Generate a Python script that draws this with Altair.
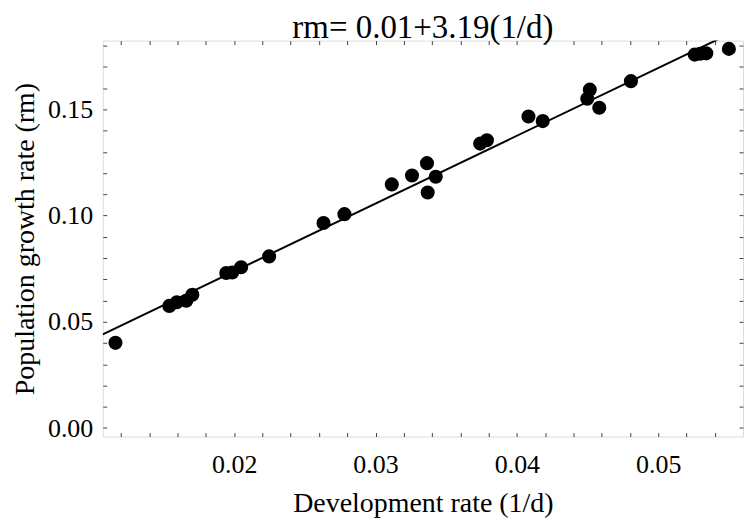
import altair as alt
import pandas as pd

# Development rate (1/d) and population growth rate (rm)
dev_rate = [0.01160, 0.01541, 0.01594, 0.01661, 0.01704, 0.01944, 0.01986,
            0.02049, 0.02247, 0.02632, 0.02780, 0.03115, 0.03258, 0.03364,
            0.03369, 0.03426, 0.03740, 0.03788, 0.04082, 0.04183, 0.04516,
            0.04498, 0.04583, 0.04807, 0.05258, 0.05296, 0.05340, 0.05500]
growth_rate = [0.0401, 0.0575, 0.0592, 0.0599, 0.0627, 0.0730, 0.0732,
               0.0757, 0.0808, 0.0965, 0.1007, 0.1147, 0.1189, 0.1247,
               0.1109, 0.1183, 0.1339, 0.1355, 0.1467, 0.1445, 0.1593,
               0.1550, 0.1508, 0.1633, 0.1758, 0.1762, 0.1764, 0.1785]

# Fitted line from the title: rm = 0.01 + 3.19 (1/d)
INTERCEPT = 0.01
SLOPE = 3.19

X_DOMAIN = [0.0107, 0.0560]
Y_DOMAIN = [-0.004, 0.1824]

x_ticks = [0.012, 0.014, 0.016, 0.018, 0.020, 0.022, 0.024, 0.026, 0.028,
           0.030, 0.032, 0.034, 0.036, 0.038, 0.040, 0.042, 0.044, 0.046,
           0.048, 0.050, 0.052, 0.054]
y_ticks = [0.00, 0.01, 0.02, 0.03, 0.04, 0.05, 0.06, 0.07, 0.08, 0.09, 0.10,
           0.11, 0.12, 0.13, 0.14, 0.15, 0.16, 0.17, 0.18]

FONT = "Liberation Serif"
TICK_COLOR = "#444"

points = pd.DataFrame({"x": dev_rate, "y": growth_rate})
line_df = pd.DataFrame({"x": X_DOMAIN})

x_scale = alt.Scale(domain=X_DOMAIN, nice=False, zero=False)
y_scale = alt.Scale(domain=Y_DOMAIN, nice=False, zero=False)

x_label_expr = "abs(datum.value*100 - round(datum.value*100)) < 0.001 ? format(datum.value, '.2f') : ''"
y_label_expr = "abs(datum.value*20 - round(datum.value*20)) < 0.001 ? format(datum.value, '.2f') : ''"

common_axis = dict(domain=False, grid=False, tickSize=4, tickColor=TICK_COLOR,
                   tickWidth=1, offset=-4, labelFont=FONT, labelFontSize=26,
                   labelColor="black", labelOverlap=False, labelFlush=False,
                   titleFont=FONT, titleFontSize=28, titleFontWeight="normal",
                   titleColor="black")

x_axis_bottom = alt.Axis(orient="bottom", values=x_ticks, labelExpr=x_label_expr,
                         labelPadding=15, title="Development rate (1/d)",
                         titlePadding=12, **common_axis)
y_axis_left = alt.Axis(orient="left", values=y_ticks, labelExpr=y_label_expr,
                       labelPadding=10, title="Population growth rate (rm)",
                       titlePadding=8, **common_axis)
x_axis_top = alt.Axis(orient="top", values=x_ticks, labels=False, title=None,
                      **common_axis)
y_axis_right = alt.Axis(orient="right", values=y_ticks, labels=False, title=None,
                        **common_axis)

scatter = alt.Chart(points).mark_circle(size=200, color="black", opacity=1).encode(
    x=alt.X("x:Q", scale=x_scale, axis=x_axis_bottom),
    y=alt.Y("y:Q", scale=y_scale, axis=y_axis_left),
)

fit = alt.Chart(line_df).transform_calculate(
    y=f"{INTERCEPT} + {SLOPE} * datum.x"
).mark_line(color="black", strokeWidth=2, clip=True).encode(
    x=alt.X("x:Q", scale=x_scale, axis=x_axis_top),
    y=alt.Y("y:Q", scale=y_scale, axis=y_axis_right),
)

chart = alt.layer(fit, scatter).resolve_axis(
    x="independent", y="independent"
).properties(
    width=642,
    height=397,
    title=alt.TitleParams("rm= 0.01+3.19(1/d)", font=FONT, fontSize=33,
                          fontWeight="normal", color="black", anchor="middle",
                          offset=3, dy=15),
    autosize=alt.AutoSizeParams(type="none"),
    padding={"left": 95, "top": 32, "right": 5, "bottom": 82},
).configure_view(
    stroke="#555", strokeWidth=1.4
).configure(background="white")

chart.save("out.html", embed_options={"renderer": "svg", "actions": False})
